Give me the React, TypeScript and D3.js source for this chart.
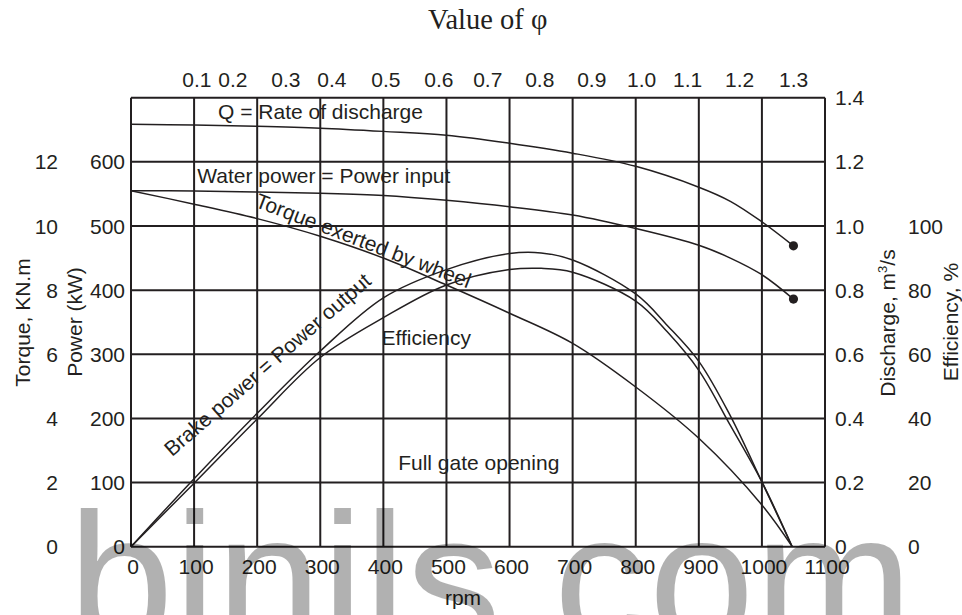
import React from "react";
import * as d3 from "d3";

// ---------- data ----------
const rpmTicks = [0, 100, 200, 300, 400, 500, 600, 700, 800, 900, 1000, 1100];
const powerTicks = [0, 100, 200, 300, 400, 500, 600];
const gridPower = [0, 100, 200, 300, 400, 500, 600, 700];
const torqueTicks = [0, 2, 4, 6, 8, 10, 12];
const dischargeTicks = [0, 0.2, 0.4, 0.6, 0.8, 1.0, 1.2, 1.4];
const efficiencyTicks = [0, 20, 40, 60, 80, 100];

// value of phi read against speed (rpm)
const phiLabels = ["0.1", "0.2", "0.3", "0.4", "0.5", "0.6", "0.7", "0.8", "0.9", "1.0", "1.1", "1.2", "1.3"];
const phiRpm = [104.5, 161.5, 245.5, 318.4, 403.9, 487.9, 565.5, 647.9, 730.3, 809.5, 882.4, 964.8, 1050.3];

// Q = rate of discharge (m3/s)
const qRpm = [0, 100, 200, 300, 400, 500, 600, 700, 800, 900, 950, 1000, 1050];
const qValues = [1.317, 1.315, 1.311, 1.305, 1.295, 1.283, 1.258, 1.227, 1.186, 1.121, 1.077, 1.013, 0.938];

// Water power = power input (kW)
const waterRpm = [0, 100, 200, 300, 400, 500, 600, 700, 800, 900, 950, 1000, 1050];
const waterPower = [555, 554.5, 553, 551, 547.5, 540, 530, 517, 496, 470, 450, 424, 386];

// Torque exerted by wheel (kN.m)
const torqueRpm = [0, 100, 200, 300, 400, 500, 600, 700, 800, 900, 1000, 1048];
const torqueValues = [11.1, 10.68, 10.23, 9.68, 9.0, 8.16, 7.28, 6.34, 4.98, 3.38, 1.3, 0];

// Brake power = power output (kW)
const brakeRpm = [0, 100, 200, 300, 400, 500, 600, 650, 700, 800, 850, 900, 950, 1000, 1048];
const brakePower = [0, 106, 208, 305, 388, 432, 457, 458, 447, 394, 345, 289, 204, 101, 0];

// Efficiency (%)
const effRpm = [0, 100, 200, 300, 400, 500, 600, 650, 700, 800, 850, 900, 950, 1000, 1048];
const effValues = [0, 19.8, 39.8, 59.0, 71.4, 81.6, 86.4, 86.8, 85.6, 76.6, 67.0, 55.0, 37.8, 20.2, 0];

// curve annotations, anchored in (rpm, kW) units
const annotations = [
  { text: "Q = Rate of discharge", rpm: 138, kw: 667, angle: 0 },
  { text: "Water power = Power input", rpm: 105, kw: 566.5, angle: 0 },
  { text: "Torque exerted by wheel", rpm: 195, kw: 530.5, angle: 21 },
  { text: "Brake power = Power output", rpm: 65, kw: 139.5, angle: -41 },
  { text: "Efficiency", rpm: 397, kw: 314.5, angle: 0 },
  { text: "Full gate opening", rpm: 423.5, kw: 119.5, angle: 0 },
];

// ---------- layout ----------
const W = 962;
const H = 615;
const left = 131;
const right = 825;
const top = 97.7;
const bottom = 546.7;
const ink = "#231f20";
const sans = "'Liberation Sans', Arial, Helvetica, sans-serif";
const fs = 21;

export default function App() {
  const x = d3.scaleLinear().domain([0, 1100]).range([left, right]);
  const yP = d3.scaleLinear().domain([0, 700]).range([bottom, top]);
  const yT = d3.scaleLinear().domain([0, 14]).range([bottom, top]);
  const yQ = d3.scaleLinear().domain([0, 1.4]).range([bottom, top]);
  const yE = d3.scaleLinear().domain([0, 140]).range([bottom, top]);

  const mk = (xs: number[], ys: number[], sy: (v: number) => number) =>
    d3
      .line<number>()
      .x((_, i) => x(xs[i]))
      .y((v) => sy(v))
      .curve(d3.curveCatmullRom.alpha(0.5))(ys) || "";

  const qPath = mk(qRpm, qValues, yQ);
  const wPath = mk(waterRpm, waterPower, yP);
  const tPath = mk(torqueRpm, torqueValues, yT);
  const bPath = mk(brakeRpm, brakePower, yP);
  const ePath = mk(effRpm, effValues, yE);

  const fmtQ = (v: number) => (v === 0 ? "0" : d3.format(".1f")(v));

  return (
    <svg
      width={W}
      height={H}
      viewBox={`0 0 ${W} ${H}`}
      style={{ position: "absolute", left: 0, top: 0, background: "#fff" }}
    >
      <rect x={0} y={0} width={W} height={H} fill="#fff" />
      {/* title */}
      <text x={428} y={29} fontFamily="'Liberation Serif', 'Times New Roman', serif" fontSize={28.5} fill={ink}>
        Value of φ
      </text>

      {/* grid */}
      <g stroke={ink} strokeWidth={2} fill="none">
        {rpmTicks.map((r) => (
          <line key={"v" + r} x1={x(r)} x2={x(r)} y1={top} y2={bottom} />
        ))}
        {gridPower.map((p) => (
          <line key={"h" + p} x1={left} x2={right} y1={yP(p)} y2={yP(p)} />
        ))}
      </g>

      {/* curves */}
      <g stroke={ink} strokeWidth={1.5} fill="none">
        <path d={qPath} />
        <path d={wPath} />
        <path d={tPath} />
        <path d={bPath} />
        <path d={ePath} />
      </g>
      <circle cx={x(qRpm[qRpm.length - 1])} cy={yQ(qValues[qValues.length - 1])} r={4.6} fill={ink} />
      <circle cx={x(waterRpm[waterRpm.length - 1])} cy={yP(waterPower[waterPower.length - 1])} r={4.6} fill={ink} />

      <g fontFamily={sans} fontSize={fs} fill={ink}>
        {/* top phi axis */}
        {phiLabels.map((l, i) => (
          <text key={"phi" + l} x={x(phiRpm[i])} y={87} textAnchor="middle">
            {l}
          </text>
        ))}
        {/* bottom rpm axis */}
        {rpmTicks.map((r) => (
          <text key={"b" + r} x={x(r) + 2} y={574} textAnchor="middle">
            {r}
          </text>
        ))}
        <text x={463} y={605} textAnchor="middle">
          rpm
        </text>
        {/* left: power */}
        {powerTicks.map((p) => (
          <text key={"p" + p} x={125} y={yP(p)} dy="0.36em" textAnchor="end">
            {p}
          </text>
        ))}
        {/* left: torque */}
        {torqueTicks.map((t) => (
          <text key={"t" + t} x={58} y={yT(t)} dy="0.36em" textAnchor="end">
            {t}
          </text>
        ))}
        {/* right: discharge */}
        {dischargeTicks.map((q) => (
          <text key={"q" + q} x={835} y={yQ(q)} dy="0.36em" textAnchor="start">
            {fmtQ(q)}
          </text>
        ))}
        {/* right: efficiency */}
        {efficiencyTicks.map((e) => (
          <text key={"e" + e} x={908} y={yE(e)} dy="0.36em" textAnchor="start">
            {e}
          </text>
        ))}
        {/* axis titles */}
        <text transform="translate(30,322.5) rotate(-90)" textAnchor="middle">
          Torque, KN.m
        </text>
        <text transform="translate(82,322) rotate(-90)" textAnchor="middle">
          Power (kW)
        </text>
        <text transform="translate(895,323) rotate(-90)" textAnchor="middle">
          Discharge, m<tspan fontSize={13} dy={-8}>3</tspan>
          <tspan dy={8}>/s</tspan>
        </text>
        <text transform="translate(958,322) rotate(-90)" textAnchor="middle">
          Efficiency, %
        </text>
        {/* curve annotations */}
        {annotations.map((a) => (
          <text
            key={a.text}
            transform={`translate(${x(a.rpm)},${yP(a.kw)}) rotate(${a.angle})`}
            textAnchor="start"
          >
            {a.text}
          </text>
        ))}
      </g>

      {/* watermark */}
      <text x={68} y={645} fontFamily={sans} fontSize={190} fill="#000" opacity={0.3}>
        binils.com
      </text>
    </svg>
  );
}
